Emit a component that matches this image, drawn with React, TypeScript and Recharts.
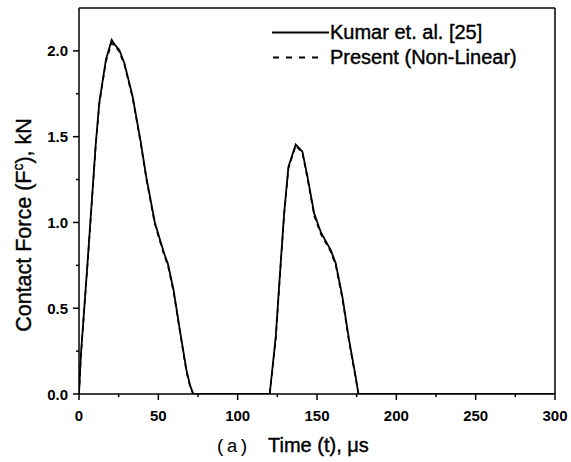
import React from 'react';
import { LineChart, Line, XAxis, YAxis, ReferenceLine } from 'recharts';

const timeUs = [0, 1.2, 5.5, 10.5, 12.8, 17, 20.6, 22.7, 25.4, 28.6, 33.8, 38.9, 42.5, 47.8, 51, 54, 56, 59.6, 63.9, 67.7, 70, 72, 100, 120.2, 124, 127.1, 129.3, 132, 136.6, 140.8, 144, 148.2, 152.3, 155, 158.6, 161.8, 166, 170.2, 174.4, 176.1, 200, 250, 300];
const kumarForce = [0, 0.23, 0.78, 1.45, 1.7, 1.95, 2.064, 2.035, 2.006, 1.928, 1.734, 1.47, 1.26, 1.0, 0.9, 0.81, 0.76, 0.606, 0.354, 0.14, 0.05, 0, 0, 0, 0.334, 0.762, 1.054, 1.325, 1.455, 1.413, 1.267, 1.054, 0.946, 0.9, 0.84, 0.762, 0.567, 0.315, 0.1, 0, 0, 0, 0];
const presentForce = [0, 0.22, 0.77, 1.44, 1.69, 1.94, 2.045, 2.03, 1.995, 1.92, 1.725, 1.46, 1.25, 0.99, 0.89, 0.8, 0.75, 0.595, 0.345, 0.13, 0.045, 0, 0, 0, 0.32, 0.75, 1.045, 1.315, 1.448, 1.405, 1.255, 1.04, 0.935, 0.89, 0.83, 0.75, 0.555, 0.305, 0.09, 0, 0, 0, 0];

const xMajorTicks = [0, 50, 100, 150, 200, 250, 300];
const xMinorTicks = [25, 75, 125, 175, 225, 275];
const yMajorTicks = [0, 0.5, 1, 1.5, 2];
const yMinorTicks = [0.25, 0.75, 1.25, 1.75];
const seriesNames = ['Kumar et. al. [25]', 'Present (Non-Linear)'];

const rows = timeUs.map((t, i) => ({ t, kumar: kumarForce[i], present: presentForce[i] }));

const SANS = '"Liberation Sans", Arial, sans-serif';

const XTick = (props: any) => {
  const { x, y, payload } = props;
  const v = payload.value;
  const major = xMajorTicks.includes(v);
  return (
    <g>
      <line x1={x} x2={x} y1={y} y2={y + (major ? 6 : 3)} stroke="#000" strokeWidth={1.5} />
      {major && (
        <text x={x} y={y + 27} textAnchor="middle" fontFamily={SANS} fontWeight="bold" fontSize={15} fill="#000">
          {v}
        </text>
      )}
    </g>
  );
};

const YTick = (props: any) => {
  const { x, y, payload } = props;
  const v = payload.value;
  const major = yMajorTicks.includes(v);
  return (
    <g>
      <line x1={x} x2={x - (major ? 6 : 3)} y1={y} y2={y} stroke="#000" strokeWidth={1.5} />
      {major && (
        <text x={x - 11} y={y + 5.5} textAnchor="end" fontFamily={SANS} fontWeight="bold" fontSize={15} fill="#000">
          {v.toFixed(1)}
        </text>
      )}
    </g>
  );
};

const XLabel = () => (
  <text y={452} fill="#000">
    <tspan x={215} fontFamily='"Liberation Mono", "Courier New", monospace' fontSize={19}>(a)</tspan>
    <tspan x={268} fontFamily={SANS} fontSize={20} stroke="#000" strokeWidth={0.4}>Time (t), μs</tspan>
  </text>
);

const YLabel = () => (
  <text transform="translate(31, 225) rotate(-90)" textAnchor="middle" fontFamily={SANS} fontSize={21.5} fill="#000" stroke="#000" strokeWidth={0.4}>
    Contact Force (F<tspan dy={-8} fontSize={14}>c</tspan><tspan dy={8}>), kN</tspan>
  </text>
);

const LegendBox = () => (
  <div style={{ position: 'absolute', left: 272, top: 20, fontFamily: SANS, fontSize: 20, color: '#000', lineHeight: '25px', WebkitTextStroke: '0.4px #000' }}>
    {seriesNames.map((name, i) => (
      <div key={name} style={{ display: 'flex', alignItems: 'center', height: 25, whiteSpace: 'nowrap' }}>
        <svg width={58} height={25} style={{ display: 'block' }}>
          {i === 0 ? (
            <line x1={0} x2={57} y1={12.5} y2={12.5} stroke="#000" strokeWidth={1.8} />
          ) : (
            <line x1={1} x2={52} y1={12.5} y2={12.5} stroke="#000" strokeWidth={1.8} strokeDasharray="6 7" />
          )}
        </svg>
        <span>{name}</span>
      </div>
    ))}
  </div>
);

export default function App() {
  return (
    <div style={{ position: 'absolute', left: 0, top: 0, width: 571, height: 462, background: '#fff' }}>
      <LineChart width={571} height={462} data={rows} margin={{ top: 8, right: 16, bottom: 0, left: 0 }}>
        <XAxis
          dataKey="t"
          type="number"
          domain={[0, 300]}
          ticks={[...xMajorTicks, ...xMinorTicks].sort((a, b) => a - b)}
          interval={0}
          tick={(p: any) => <XTick {...p} />}
          tickLine={false}
          tickSize={0}
          tickMargin={0}
          height={68}
          axisLine={{ stroke: '#000', strokeWidth: 1.5 }}
          allowDataOverflow
          label={<XLabel />}
        />
        <YAxis
          type="number"
          domain={[0, 2.25]}
          ticks={[...yMajorTicks, ...yMinorTicks].sort((a, b) => a - b)}
          interval={0}
          tick={(p: any) => <YTick {...p} />}
          tickLine={false}
          tickSize={0}
          tickMargin={0}
          width={79}
          axisLine={{ stroke: '#000', strokeWidth: 1.5 }}
          allowDataOverflow
          label={<YLabel />}
        />
        <ReferenceLine y={2.25} stroke="#000" strokeWidth={1.5} />
        <ReferenceLine x={300} stroke="#000" strokeWidth={1.5} />
        <Line dataKey="kumar" name={seriesNames[0]} type="linear" stroke="#000" strokeWidth={1.8} dot={false} isAnimationActive={false} />
        <Line dataKey="present" name={seriesNames[1]} type="linear" stroke="#000" strokeWidth={1.6} strokeDasharray="5 4" dot={false} isAnimationActive={false} />
      </LineChart>
      <LegendBox />
    </div>
  );
}
